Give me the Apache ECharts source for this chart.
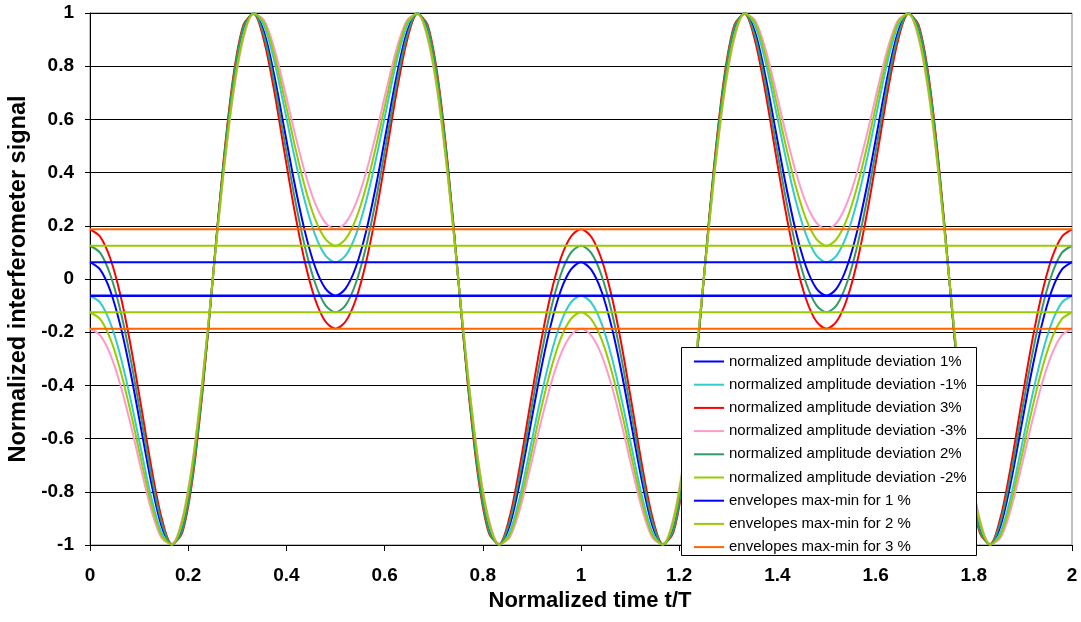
<!DOCTYPE html>
<html><head><meta charset="utf-8">
<script src="https://cdn.jsdelivr.net/npm/echarts@6/dist/echarts.min.js"></script>
<style>html,body{margin:0;padding:0;background:#fff}#c{width:1081px;height:622px}</style>
</head><body><div id="c"></div>
<script>
// normalized time samples t/T
const tValues = [
0, 0.0208, 0.0417, 0.0625, 0.0833, 0.1042, 0.125, 0.1458, 0.1667, 0.1875, 0.2083, 0.2292, 0.25,
0.2708, 0.2917, 0.3125, 0.3333, 0.3542, 0.375, 0.3958, 0.4167, 0.4375, 0.4583, 0.4792, 0.5,
0.5208, 0.5417, 0.5625, 0.5833, 0.6042, 0.625, 0.6458, 0.6667, 0.6875, 0.7083, 0.7292, 0.75,
0.7708, 0.7917, 0.8125, 0.8333, 0.8542, 0.875, 0.8958, 0.9167, 0.9375, 0.9583, 0.9792, 1,
1.0208, 1.0417, 1.0625, 1.0833, 1.1042, 1.125, 1.1458, 1.1667, 1.1875, 1.2083, 1.2292, 1.25,
1.2708, 1.2917, 1.3125, 1.3333, 1.3542, 1.375, 1.3958, 1.4167, 1.4375, 1.4583, 1.4792, 1.5,
1.5208, 1.5417, 1.5625, 1.5833, 1.6042, 1.625, 1.6458, 1.6667, 1.6875, 1.7083, 1.7292, 1.75,
1.7708, 1.7917, 1.8125, 1.8333, 1.8542, 1.875, 1.8958, 1.9167, 1.9375, 1.9583, 1.9792, 2
];

// normalized amplitude deviation 1%
const dev1 = [
0.063, 0.035, -0.046, -0.18, -0.358, -0.564, -0.768, -0.929, -0.999, -0.941, -0.738, -0.406, 0,
0.406, 0.738, 0.941, 0.999, 0.929, 0.768, 0.564, 0.358, 0.18, 0.046, -0.035, -0.063,
-0.035, 0.046, 0.18, 0.358, 0.564, 0.768, 0.929, 0.999, 0.941, 0.738, 0.406, 0,
-0.406, -0.738, -0.941, -0.999, -0.929, -0.768, -0.564, -0.358, -0.18, -0.046, 0.035, 0.063,
0.035, -0.046, -0.18, -0.358, -0.564, -0.768, -0.929, -0.999, -0.941, -0.738, -0.406, 0,
0.406, 0.738, 0.941, 0.999, 0.929, 0.768, 0.564, 0.358, 0.18, 0.046, -0.035, -0.063,
-0.035, 0.046, 0.18, 0.358, 0.564, 0.768, 0.929, 0.999, 0.941, 0.738, 0.406, 0,
-0.406, -0.738, -0.941, -0.999, -0.929, -0.768, -0.564, -0.358, -0.18, -0.046, 0.035, 0.063
];
// normalized amplitude deviation -1%
const devM1 = [
-0.063, -0.089, -0.167, -0.293, -0.458, -0.643, -0.822, -0.954, -0.999, -0.924, -0.715, -0.391, 0,
0.391, 0.715, 0.924, 0.999, 0.954, 0.822, 0.643, 0.458, 0.293, 0.167, 0.089, 0.063,
0.089, 0.167, 0.293, 0.458, 0.643, 0.822, 0.954, 0.999, 0.924, 0.715, 0.391, 0,
-0.391, -0.715, -0.924, -0.999, -0.954, -0.822, -0.643, -0.458, -0.293, -0.167, -0.089, -0.063,
-0.089, -0.167, -0.293, -0.458, -0.643, -0.822, -0.954, -0.999, -0.924, -0.715, -0.391, 0,
0.391, 0.715, 0.924, 0.999, 0.954, 0.822, 0.643, 0.458, 0.293, 0.167, 0.089, 0.063,
0.089, 0.167, 0.293, 0.458, 0.643, 0.822, 0.954, 0.999, 0.924, 0.715, 0.391, 0,
-0.391, -0.715, -0.924, -0.999, -0.954, -0.822, -0.643, -0.458, -0.293, -0.167, -0.089, -0.063
];
// normalized amplitude deviation 3%
const dev3 = [
0.187, 0.159, 0.075, -0.065, -0.255, -0.479, -0.708, -0.898, -0.996, -0.956, -0.759, -0.421, 0,
0.421, 0.759, 0.956, 0.996, 0.898, 0.708, 0.479, 0.255, 0.065, -0.075, -0.159, -0.187,
-0.159, -0.075, 0.065, 0.255, 0.479, 0.708, 0.898, 0.996, 0.956, 0.759, 0.421, 0,
-0.421, -0.759, -0.956, -0.996, -0.898, -0.708, -0.479, -0.255, -0.065, 0.075, 0.159, 0.187,
0.159, 0.075, -0.065, -0.255, -0.479, -0.708, -0.898, -0.996, -0.956, -0.759, -0.421, 0,
0.421, 0.759, 0.956, 0.996, 0.898, 0.708, 0.479, 0.255, 0.065, -0.075, -0.159, -0.187,
-0.159, -0.075, 0.065, 0.255, 0.479, 0.708, 0.898, 0.996, 0.956, 0.759, 0.421, 0,
-0.421, -0.759, -0.956, -0.996, -0.898, -0.708, -0.479, -0.255, -0.065, 0.075, 0.159, 0.187
];
// normalized amplitude deviation -3%
const devM3 = [
-0.187, -0.212, -0.285, -0.402, -0.551, -0.716, -0.869, -0.974, -0.996, -0.904, -0.692, -0.376, 0,
0.376, 0.692, 0.904, 0.996, 0.974, 0.869, 0.716, 0.551, 0.402, 0.285, 0.212, 0.187,
0.212, 0.285, 0.402, 0.551, 0.716, 0.869, 0.974, 0.996, 0.904, 0.692, 0.376, 0,
-0.376, -0.692, -0.904, -0.996, -0.974, -0.869, -0.716, -0.551, -0.402, -0.285, -0.212, -0.187,
-0.212, -0.285, -0.402, -0.551, -0.716, -0.869, -0.974, -0.996, -0.904, -0.692, -0.376, 0,
0.376, 0.692, 0.904, 0.996, 0.974, 0.869, 0.716, 0.551, 0.402, 0.285, 0.212, 0.187,
0.212, 0.285, 0.402, 0.551, 0.716, 0.869, 0.974, 0.996, 0.904, 0.692, 0.376, 0,
-0.376, -0.692, -0.904, -0.996, -0.974, -0.869, -0.716, -0.551, -0.402, -0.285, -0.212, -0.187
];
// normalized amplitude deviation 2%
const dev2 = [
0.125, 0.098, 0.014, -0.123, -0.307, -0.522, -0.739, -0.914, -0.998, -0.949, -0.748, -0.414, 0,
0.414, 0.748, 0.949, 0.998, 0.914, 0.739, 0.522, 0.307, 0.123, -0.014, -0.098, -0.125,
-0.098, -0.014, 0.123, 0.307, 0.522, 0.739, 0.914, 0.998, 0.949, 0.748, 0.414, 0,
-0.414, -0.748, -0.949, -0.998, -0.914, -0.739, -0.522, -0.307, -0.123, 0.014, 0.098, 0.125,
0.098, 0.014, -0.123, -0.307, -0.522, -0.739, -0.914, -0.998, -0.949, -0.748, -0.414, 0,
0.414, 0.748, 0.949, 0.998, 0.914, 0.739, 0.522, 0.307, 0.123, -0.014, -0.098, -0.125,
-0.098, -0.014, 0.123, 0.307, 0.522, 0.739, 0.914, 0.998, 0.949, 0.748, 0.414, 0,
-0.414, -0.748, -0.949, -0.998, -0.914, -0.739, -0.522, -0.307, -0.123, 0.014, 0.098, 0.125
];
// normalized amplitude deviation -2%
const devM2 = [
-0.125, -0.151, -0.226, -0.348, -0.505, -0.681, -0.846, -0.965, -0.998, -0.914, -0.704, -0.384, 0,
0.384, 0.704, 0.914, 0.998, 0.965, 0.846, 0.681, 0.505, 0.348, 0.226, 0.151, 0.125,
0.151, 0.226, 0.348, 0.505, 0.681, 0.846, 0.965, 0.998, 0.914, 0.704, 0.384, 0,
-0.384, -0.704, -0.914, -0.998, -0.965, -0.846, -0.681, -0.505, -0.348, -0.226, -0.151, -0.125,
-0.151, -0.226, -0.348, -0.505, -0.681, -0.846, -0.965, -0.998, -0.914, -0.704, -0.384, 0,
0.384, 0.704, 0.914, 0.998, 0.965, 0.846, 0.681, 0.505, 0.348, 0.226, 0.151, 0.125,
0.151, 0.226, 0.348, 0.505, 0.681, 0.846, 0.965, 0.998, 0.914, 0.704, 0.384, 0,
-0.384, -0.704, -0.914, -0.998, -0.965, -0.846, -0.681, -0.505, -0.348, -0.226, -0.151, -0.125
];

// envelopes (max, min)
const env1 = [0.063, -0.063];
const env2 = [0.125, -0.125];
const env3 = [0.187, -0.187];

const curveNames = [
  'normalized amplitude deviation 1%',
  'normalized amplitude deviation -1%',
  'normalized amplitude deviation 3%',
  'normalized amplitude deviation -3%',
  'normalized amplitude deviation 2%',
  'normalized amplitude deviation -2%'
];
const envNames = [
  'envelopes max-min for 1 %',
  'envelopes max-min for 2 %',
  'envelopes max-min for 3 %'
];
const curveColors = ['#0000FF', '#33CCCC', '#FF0000', '#FF99CC', '#339966', '#99CC00'];
const envColors = ['#0000FF', '#99CC00', '#FF6600'];
const xRange = [0, 2];

const FONT = "'Liberation Sans', Arial, sans-serif";
const curves = [dev1, devM1, dev3, devM3, dev2, devM2];

const series = [];
curves.forEach((arr, k) => {
  series.push({
    name: curveNames[k], type: 'line', symbol: 'none', smooth: 0.3,
    data: tValues.map((t, i) => [t, arr[i]]),
    lineStyle: { color: curveColors[k], width: 2 },
    itemStyle: { color: curveColors[k] },
    emphasis: { disabled: true }
  });
});
[env1, env2, env3].forEach((env, k) => {
  env.forEach((v, m) => {
    series.push({
      name: envNames[k], type: 'line', symbol: 'none',
      data: [[xRange[0], v], [xRange[1], v]],
      lineStyle: { color: envColors[k], width: (k === 0 && m === 1) ? 2.7 : 1.8 },
      itemStyle: { color: envColors[k] },
      emphasis: { disabled: true }
    });
  });
});

const chart = echarts.init(document.getElementById('c'), null, { renderer: 'canvas' });
chart.setOption({
  animation: false,
  backgroundColor: '#fff',
  grid: { left: 90, right: 9, top: 13, bottom: 77, show: true, borderColor: '#808080', borderWidth: 1, backgroundColor: 'transparent', containLabel: false, outerBoundsMode: 'none' },
  xAxis: {
    type: 'value', min: 0, max: 2, interval: 0.2,
    name: 'Normalized time t/T', nameLocation: 'middle', nameGap: 42,
    nameTextStyle: { fontFamily: FONT, fontSize: 22, fontWeight: 'bold', color: '#000', padding: [0, 0, 0, 18] },
    axisLine: { show: true, onZero: false, lineStyle: { color: '#000', width: 1 } },
    axisTick: { show: true, inside: false, length: 6, lineStyle: { color: '#000' } },
    axisLabel: { margin: 21, fontFamily: FONT, fontSize: 19, fontWeight: 'bold', color: '#000' },
    splitLine: { show: false }
  },
  yAxis: {
    type: 'value', min: -1, max: 1, interval: 0.2,
    name: 'Normalized interferometer signal', nameLocation: 'middle', nameGap: 56,
    nameTextStyle: { fontFamily: FONT, fontSize: 23.5, fontWeight: 'bold', color: '#000' },
    axisLine: { show: true, onZero: false, lineStyle: { color: '#000', width: 1 } },
    axisTick: { show: true, inside: false, length: 5, lineStyle: { color: '#000' } },
    axisLabel: { margin: 16, fontFamily: FONT, fontSize: 19, fontWeight: 'bold', color: '#000' },
    splitLine: { show: true, lineStyle: { color: '#000', width: 1 } }
  },
  legend: {
    orient: 'vertical', left: 694, top: 354, z: 20,
    data: curveNames.concat(envNames),
    icon: 'rect',
    itemWidth: 30, itemHeight: 2, itemGap: 8.2, padding: 0,
    selectedMode: false,
    textStyle: { fontFamily: FONT, fontSize: 15, lineHeight: 14, color: '#000' }
  },
  graphic: [{
    type: 'rect', z: 10, silent: true,
    shape: { x: 681.5, y: 347.5, width: 295, height: 208 },
    style: { fill: '#fff', stroke: '#000', lineWidth: 1 }
  }],
  series: series
});
</script>
</body></html>
